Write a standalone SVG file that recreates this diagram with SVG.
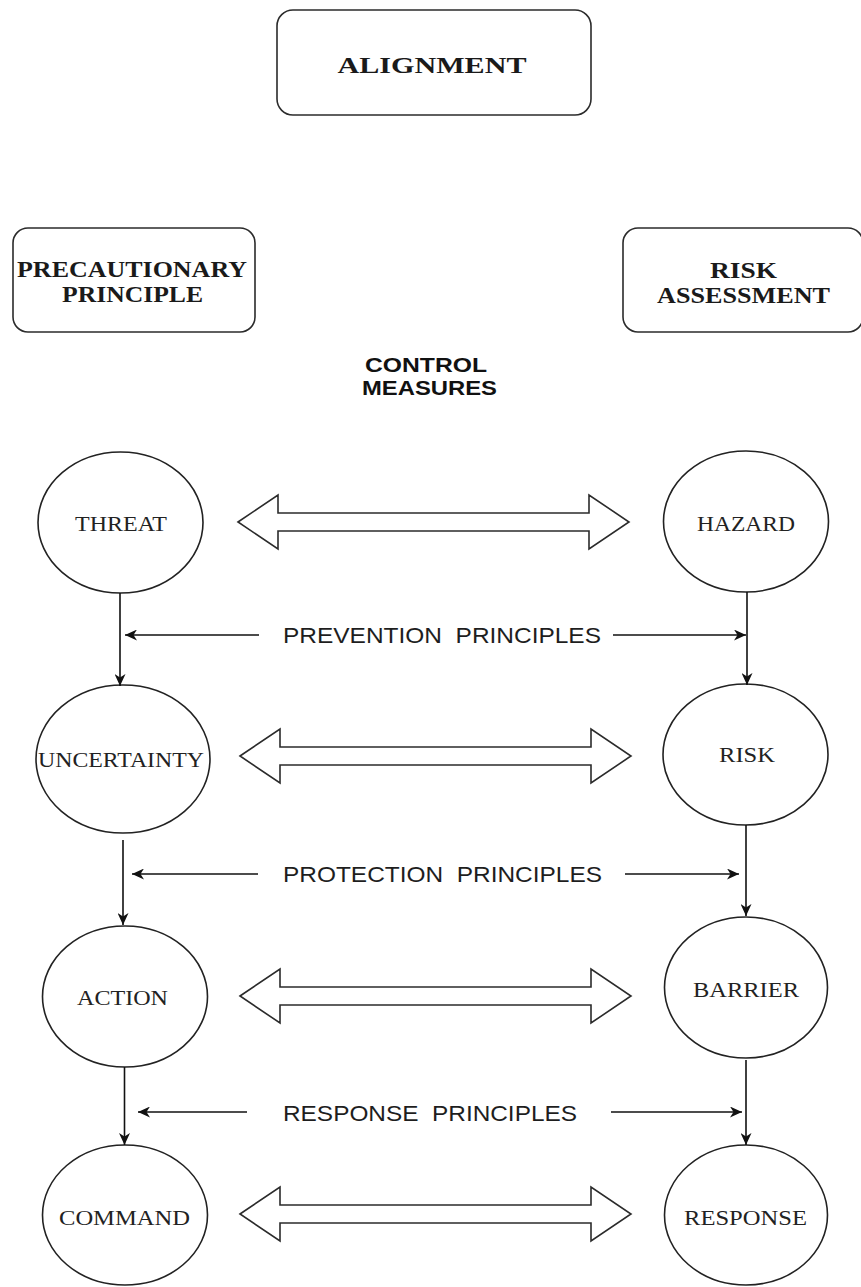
<svg xmlns="http://www.w3.org/2000/svg" xmlns:xlink="http://www.w3.org/1999/xlink" width="861" height="1287" viewBox="0 0 861 1287">
  <style>
    .box { fill: #ffffff; stroke: #2b2b2b; stroke-width: 1.6; }
    .node { fill: #ffffff; stroke: #222222; stroke-width: 1.6; }
    .boxtext { font-family: "Liberation Serif", "Times New Roman", serif; font-weight: bold; font-size: 23px; fill: #1a1a1a; text-anchor: middle; }
    .nodetext { font-family: "Liberation Serif", "Times New Roman", serif; font-size: 21px; fill: #222222; text-anchor: middle; }
    .label { font-family: "Liberation Sans", Arial, sans-serif; font-size: 22px; fill: #1e1e1e; text-anchor: middle; white-space: pre; }
    .heading { font-family: "Liberation Sans", Arial, sans-serif; font-weight: bold; font-size: 21px; fill: #111111; text-anchor: middle; }
    .link { fill: none; stroke: #111111; stroke-width: 1.6; }
    .dbl { fill: #ffffff; stroke: #2b2b2b; stroke-width: 1.6; stroke-linejoin: miter; }
  </style>
  <defs>
    <marker id="head" markerUnits="userSpaceOnUse" markerWidth="13" markerHeight="11" refX="12" refY="5.5" orient="auto">
      <path d="M0,0 L12,5.5 L0,11 L3.5,5.5 Z" fill="#111111"/>
    </marker>
    <!-- two-headed block arrow, tip at x=0, centred on y=0 -->
    <path id="double-arrow" class="dbl" d="M0,0 L40,-27 L40,-9 L351,-9 L351,-27 L391,0 L351,27 L351,9 L40,9 L40,27 Z"/>
  </defs>

  <rect width="861" height="1287" fill="#ffffff"/>

  <!-- header boxes -->
  <g id="alignment">
    <rect class="box" x="277" y="10" width="314" height="105" rx="16"/>
    <text class="boxtext" x="432" y="73" font-size="26" textLength="189" lengthAdjust="spacingAndGlyphs">ALIGNMENT</text>
  </g>
  <g id="precautionary-principle">
    <rect class="box" x="13" y="228" width="242" height="104" rx="15"/>
    <text class="boxtext" x="132" y="277" textLength="230" lengthAdjust="spacingAndGlyphs">PRECAUTIONARY</text>
    <text class="boxtext" x="132.5" y="302" textLength="141" lengthAdjust="spacingAndGlyphs">PRINCIPLE</text>
  </g>
  <g id="risk-assessment">
    <rect class="box" x="623" y="228" width="240" height="104" rx="15"/>
    <text class="boxtext" x="743.5" y="278" textLength="67" lengthAdjust="spacingAndGlyphs">RISK</text>
    <text class="boxtext" x="743.5" y="303" textLength="173" lengthAdjust="spacingAndGlyphs">ASSESSMENT</text>
  </g>
  <g id="control-measures">
    <text class="heading" x="426" y="372" textLength="122" lengthAdjust="spacingAndGlyphs">CONTROL</text>
    <text class="heading" x="429.5" y="395" textLength="135" lengthAdjust="spacingAndGlyphs">MEASURES</text>
  </g>

  <!-- left column -->
  <g id="threat">
    <ellipse class="node" cx="120.5" cy="522.5" rx="82.5" ry="70.5"/>
    <text class="nodetext" x="121" y="531" textLength="92" lengthAdjust="spacingAndGlyphs">THREAT</text>
  </g>
  <g id="uncertainty">
    <ellipse class="node" cx="123" cy="759" rx="87" ry="74"/>
    <text class="nodetext" x="121" y="767" textLength="166" lengthAdjust="spacingAndGlyphs">UNCERTAINTY</text>
  </g>
  <g id="action">
    <ellipse class="node" cx="125" cy="996.5" rx="82.5" ry="70.5"/>
    <text class="nodetext" x="122.5" y="1005" textLength="91" lengthAdjust="spacingAndGlyphs">ACTION</text>
  </g>
  <g id="command">
    <ellipse class="node" cx="125" cy="1215" rx="82.5" ry="70"/>
    <text class="nodetext" x="124.5" y="1225" textLength="131" lengthAdjust="spacingAndGlyphs">COMMAND</text>
  </g>

  <!-- right column -->
  <g id="hazard">
    <ellipse class="node" cx="746" cy="521.5" rx="82.5" ry="70.5"/>
    <text class="nodetext" x="746" y="531" textLength="98" lengthAdjust="spacingAndGlyphs">HAZARD</text>
  </g>
  <g id="risk">
    <ellipse class="node" cx="745.5" cy="754.5" rx="82.5" ry="70.5"/>
    <text class="nodetext" x="747" y="762" textLength="56" lengthAdjust="spacingAndGlyphs">RISK</text>
  </g>
  <g id="barrier">
    <ellipse class="node" cx="746" cy="987.5" rx="81.5" ry="70.5"/>
    <text class="nodetext" x="746" y="997" textLength="106" lengthAdjust="spacingAndGlyphs">BARRIER</text>
  </g>
  <g id="response">
    <ellipse class="node" cx="746" cy="1215" rx="81.5" ry="70"/>
    <text class="nodetext" x="745.5" y="1225" textLength="123" lengthAdjust="spacingAndGlyphs">RESPONSE</text>
  </g>

  <!-- principle labels -->
  <g id="prevention-principles">
    <text class="label" x="442" y="643" textLength="318" lengthAdjust="spacingAndGlyphs">PREVENTION  PRINCIPLES</text>
  </g>
  <g id="protection-principles">
    <text class="label" x="442.5" y="882" textLength="319" lengthAdjust="spacingAndGlyphs">PROTECTION  PRINCIPLES</text>
  </g>
  <g id="response-principles">
    <text class="label" x="430" y="1121" textLength="294" lengthAdjust="spacingAndGlyphs">RESPONSE  PRINCIPLES</text>
  </g>

  <!-- connectors -->
  <g id="connectors">
    <!-- block arrows between the two columns -->
    <use xlink:href="#double-arrow" transform="translate(238,522)"/>
    <use xlink:href="#double-arrow" transform="translate(240,756)"/>
    <use xlink:href="#double-arrow" transform="translate(240,996)"/>
    <use xlink:href="#double-arrow" transform="translate(240,1214)"/>

    <!-- vertical flow, left column -->
    <line class="link" x1="120" y1="593" x2="120" y2="686" marker-end="url(#head)"/>
    <line class="link" x1="123" y1="840" x2="123" y2="925" marker-end="url(#head)"/>
    <line class="link" x1="124.5" y1="1067" x2="124.5" y2="1145" marker-end="url(#head)"/>

    <!-- vertical flow, right column -->
    <line class="link" x1="747" y1="592" x2="747" y2="685" marker-end="url(#head)"/>
    <line class="link" x1="746" y1="825" x2="746" y2="916" marker-end="url(#head)"/>
    <line class="link" x1="746" y1="1060" x2="746" y2="1145" marker-end="url(#head)"/>

    <!-- principle pointers -->
    <line class="link" x1="259" y1="635" x2="125" y2="635" marker-end="url(#head)"/>
    <line class="link" x1="613" y1="635" x2="746" y2="635" marker-end="url(#head)"/>
    <line class="link" x1="258" y1="874" x2="132" y2="874" marker-end="url(#head)"/>
    <line class="link" x1="625" y1="874" x2="739" y2="874" marker-end="url(#head)"/>
    <line class="link" x1="247" y1="1112" x2="138" y2="1112" marker-end="url(#head)"/>
    <line class="link" x1="611" y1="1112" x2="742" y2="1112" marker-end="url(#head)"/>
  </g>
</svg>
